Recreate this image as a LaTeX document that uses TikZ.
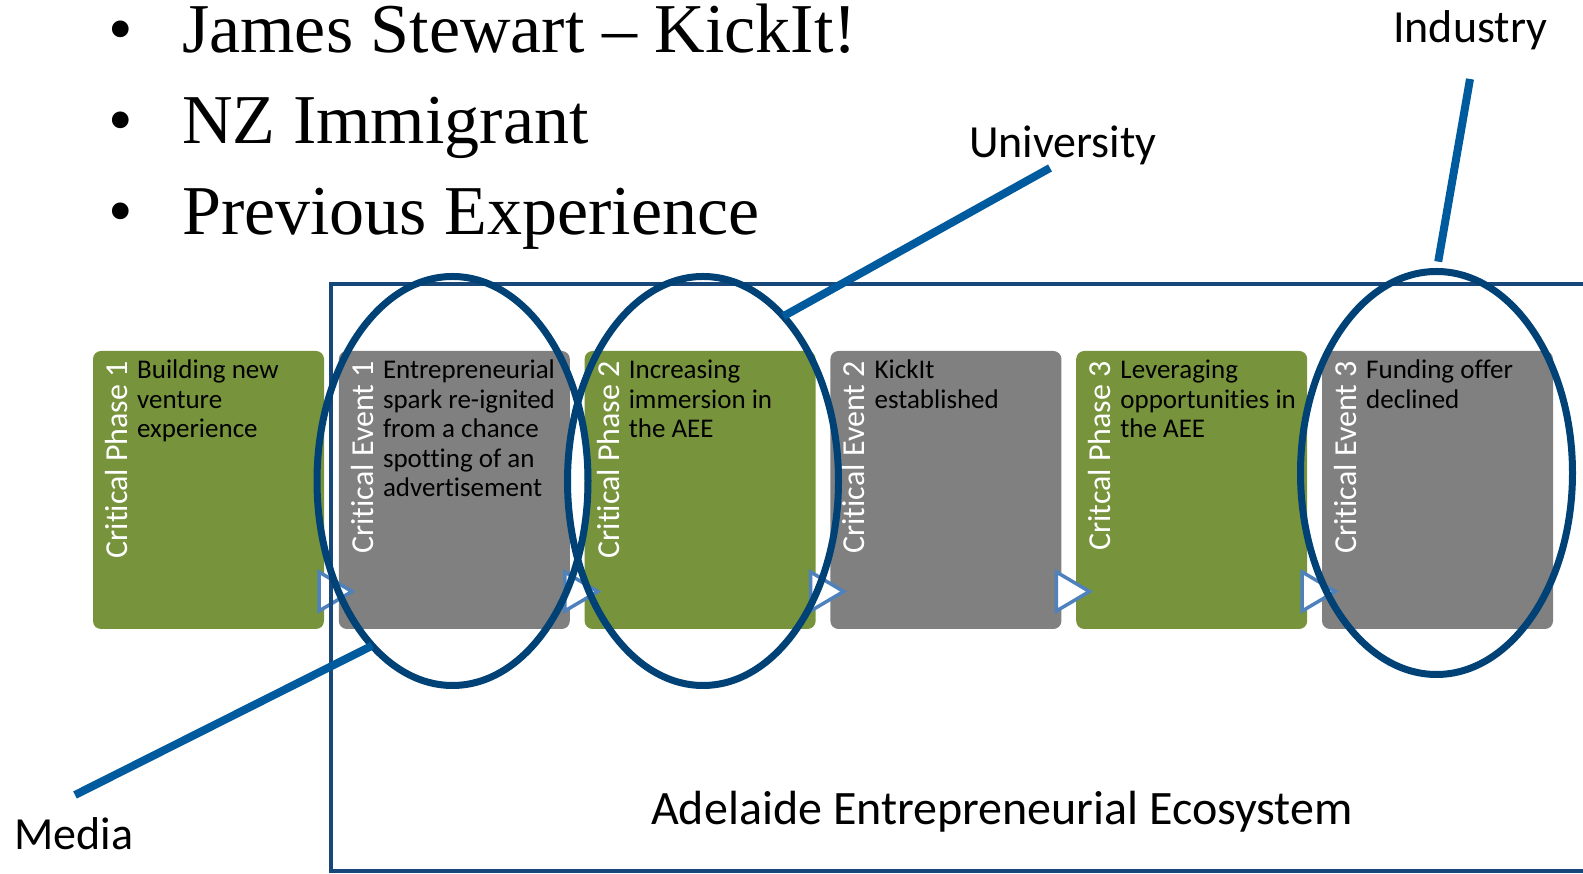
\documentclass[tikz,border=0pt]{standalone}
\usepackage{fontspec}
\setmainfont{Carlito}[Ligatures=NoCommon]
\newfontfamily\slidefont{Liberation Serif}
\usetikzlibrary{shapes.geometric}

\definecolor{phasegreen}{RGB}{119,147,60}
\definecolor{eventgrey}{RGB}{128,128,128}
\definecolor{arrowblue}{RGB}{79,129,189}
\definecolor{ringblue}{RGB}{0,65,118}
\definecolor{frameblue}{RGB}{24,72,122}
\definecolor{pointerblue}{RGB}{0,90,158}

\tikzset{
  stage/.style={rounded corners=8pt, minimum width=231pt, minimum height=278pt,
    inner sep=0pt, outer sep=0pt},
  phase/.style={stage, fill=phasegreen},
  event/.style={stage, fill=eventgrey},
  tag/.style={rotate=90, anchor=north east, inner sep=0pt, text=white,
    font=\fontsize{32}{34}\selectfont},
  blurb/.style={anchor=north west, inner sep=0pt, align=left,
    font=\fontsize{27}{29.5}\selectfont},
  tri/.style={draw=arrowblue, fill=white, line width=3.5pt},
  ring/.style={ellipse, draw=ringblue, line width=7pt, inner sep=0pt, outer sep=0pt},
  pointer/.style={draw=pointerblue, line width=8pt},
  callout/.style={anchor=base west, inner sep=0pt, font=\fontsize{46}{50}\selectfont},
  point/.style={anchor=base west, inner sep=0pt, font=\slidefont\fontsize{70}{80}\selectfont}
}

% triangle between two stages, hung on the left stage
\newcommand{\flowtri}[1]{%
  \draw[tri] ([shift={(-5pt,57pt)}]#1.south east) -- ([shift={(28pt,37.5pt)}]#1.south east)
    -- ([shift={(-5pt,18pt)}]#1.south east) -- cycle;}

\begin{document}
\begin{tikzpicture}[x=1pt,y=1pt]
  \useasboundingbox (0,0) rectangle (1583,874);

  % bullet points
  \node[point] (dot1) at (108,821) {•};
  \node[point] (dot2) at (108,730) {•};
  \node[point] (dot3) at (108,639) {•};
  \node[point] (who) at (182,821) {James Stewart – KickIt!};
  \node[point] (from) at (182,730) {NZ Immigrant};
  \node[point] (prev) at (182,639) {Previous Experience};

  % stages
  \node[phase] (p1) at (208.5,384) {};
  \node[event] (e1) at (454.3,384) {};
  \node[phase] (p2) at (700.1,384) {};
  \node[event] (e2) at (945.9,384) {};
  \node[phase] (p3) at (1191.7,384) {};
  \node[event] (e3) at (1437.5,384) {};

  \node[tag] (p1tag) at ([shift={(12pt,-10pt)}]p1.north west) {Critical Phase 1};
  \node[tag] (e1tag) at ([shift={(12pt,-10pt)}]e1.north west) {Critical Event 1};
  \node[tag] (p2tag) at ([shift={(12pt,-10pt)}]p2.north west) {Critical Phase 2};
  \node[tag] (e2tag) at ([shift={(12pt,-10pt)}]e2.north west) {Critical Event 2};
  \node[tag] (p3tag) at ([shift={(12pt,-10pt)}]p3.north west) {Critcal Phase 3};
  \node[tag] (e3tag) at ([shift={(12pt,-10pt)}]e3.north west) {Critical Event 3};

  \node[blurb] (p1text) at ([shift={(44pt,-9pt)}]p1.north west) {Building new\\venture\\experience};
  \node[blurb] (e1text) at ([shift={(44pt,-9pt)}]e1.north west) {Entrepreneurial\\spark re-ignited\\from a chance\\spotting of an\\advertisement};
  \node[blurb] (p2text) at ([shift={(44pt,-9pt)}]p2.north west) {Increasing\\immersion in\\the AEE};
  \node[blurb] (e2text) at ([shift={(44pt,-9pt)}]e2.north west) {KickIt\\established};
  \node[blurb] (p3text) at ([shift={(44pt,-9pt)}]p3.north west) {Leveraging\\opportunities in\\the AEE};
  \node[blurb] (e3text) at ([shift={(44pt,-9pt)}]e3.north west) {Funding offer\\declined};

  \flowtri{p1}
  \flowtri{e1}
  \flowtri{p2}
  \flowtri{e2}
  \flowtri{p3}

  % ecosystem frame
  \draw[frameblue, line width=3.5pt] (331,3) rectangle (1640,590);
  \node[callout, font=\fontsize{48}{50}\selectfont] (aee) at (651,49) {Adelaide Entrepreneurial Ecosystem};

  % rings and their labels
  \node[ring, minimum width=271pt, minimum height=409pt] (media) at (452.5,393) {};
  \node[ring, minimum width=271pt, minimum height=409pt] (uni) at (703,393) {};
  \node[ring, minimum width=272pt, minimum height=403pt] (ind) at (1436.5,401) {};

  \node[callout] (medialbl) at (14,24) {Media};
  \node[callout] (unilbl) at (969,716) {University};
  \node[callout] (indlbl) at (1393,831) {Industry};

  \coordinate (mediaend) at (75,79);
  \coordinate (uniend) at (1050,706);
  \coordinate (indend) at (1470,795);
  \draw[pointer] (mediaend) -- (media.244);
  \draw[pointer] (uniend) -- (uni.64);
  \draw[pointer, shorten >=10pt] (indend) -- (ind.north);
\end{tikzpicture}
\end{document}
